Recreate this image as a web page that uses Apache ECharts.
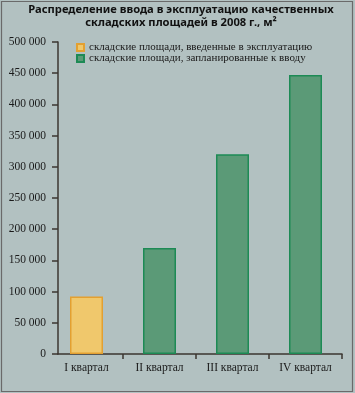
<!DOCTYPE html>
<html>
<head>
<meta charset="utf-8">
<script src="https://cdn.jsdelivr.net/npm/echarts@6/dist/echarts.min.js"></script>
<style>
html,body{margin:0;padding:0;background:#b2c1c1;}
#c{width:355px;height:393px;}
</style>
</head>
<body>
<div id="c"></div>
<script>
var titleText = 'Распределение ввода в эксплуатацию качественных\nскладских площадей в 2008 г., м²';
var categories = ['I квартал', 'II квартал', 'III квартал', 'IV квартал'];
var seriesNames = ['складские площади, введенные в эксплуатацию', 'складские площади, запланированные к вводу'];
var builtValues = [92000, '-', '-', '-'];
var plannedValues = ['-', 170000, 320000, 447000];
var yMin = 0, yMax = 500000, yStep = 50000;

function fmt(v){ return String(v).replace(/\B(?=(\d{3})+(?!\d))/g, ' '); }

var chart = echarts.init(document.getElementById('c'), null, {renderer:'canvas'});
var axisColor = '#3b3631';
var serif = '"Liberation Serif", "DejaVu Serif", serif';
chart.setOption({
  backgroundColor: '#b2c1c1',
  animation: false,
  title: {
    text: titleText,
    left: 181, top: 3, textAlign: 'center', padding: 0,
    textStyle: {fontFamily: '"Noto Sans", sans-serif', fontWeight: 'bold', fontSize: 11.2, lineHeight: 13, color: '#111'}
  },
  legend: {
    orient: 'vertical', left: 71, top: 37,
    itemWidth: 7, itemHeight: 7, itemGap: 0, icon: 'rect',
    textStyle: {fontFamily: serif, fontSize: 11, lineHeight: 11, color: '#1a1a1a'},
    data: seriesNames
  },
  grid: [
    {left: 58, right: 13, top: 42, bottom: 39, containLabel: false},
    {left: 50, right: 13, top: 42, bottom: 39, containLabel: false}
  ],
  xAxis: [
    {type: 'category', gridIndex: 0, data: categories, axisLine: {show: true, lineStyle: {color: axisColor, width: 1.5}},
     axisTick: {show: false}, axisLabel: {show: false}, splitLine: {show: false}},
    {type: 'category', gridIndex: 1, data: categories, axisLine: {show: false},
     axisTick: {show: true, length: 5, lineStyle: {color: axisColor, width: 1.5}, interval: function(i){ return i !== 0; }},
     axisLabel: {fontFamily: serif, fontSize: 11.5, color: '#1a1a1a', margin: 8, interval: 0}}
  ],
  yAxis: [
    {type: 'value', gridIndex: 0, min: yMin, max: yMax, interval: yStep,
     axisLine: {show: true, lineStyle: {color: axisColor, width: 1.5}},
     axisTick: {show: true, length: 6, lineStyle: {color: axisColor, width: 1.5}},
     axisLabel: {fontFamily: serif, fontSize: 11.5, color: '#1a1a1a', margin: 12, formatter: fmt},
     splitLine: {show: false}},
    {type: 'value', gridIndex: 1, min: yMin, max: yMax, interval: yStep, show: false}
  ],
  series: [
    {name: seriesNames[0], type: 'bar', xAxisIndex: 1, yAxisIndex: 1, stack: 's', barWidth: 33, data: builtValues,
     itemStyle: {color: '#f0c86c', borderColor: '#e3a031', borderWidth: 1.5}},
    {name: seriesNames[1], type: 'bar', xAxisIndex: 1, yAxisIndex: 1, stack: 's', barWidth: 33, data: plannedValues,
     itemStyle: {color: '#5b9a77', borderColor: '#1d8a55', borderWidth: 1.5}}
  ],
  graphic: [
    {type: 'rect', shape: {x: 1.5, y: 1.5, width: 351, height: 390}, style: {fill: 'none', stroke: '#6a6a6a', lineWidth: 1.2}, silent: true}
  ]
});
</script>
</body>
</html>
